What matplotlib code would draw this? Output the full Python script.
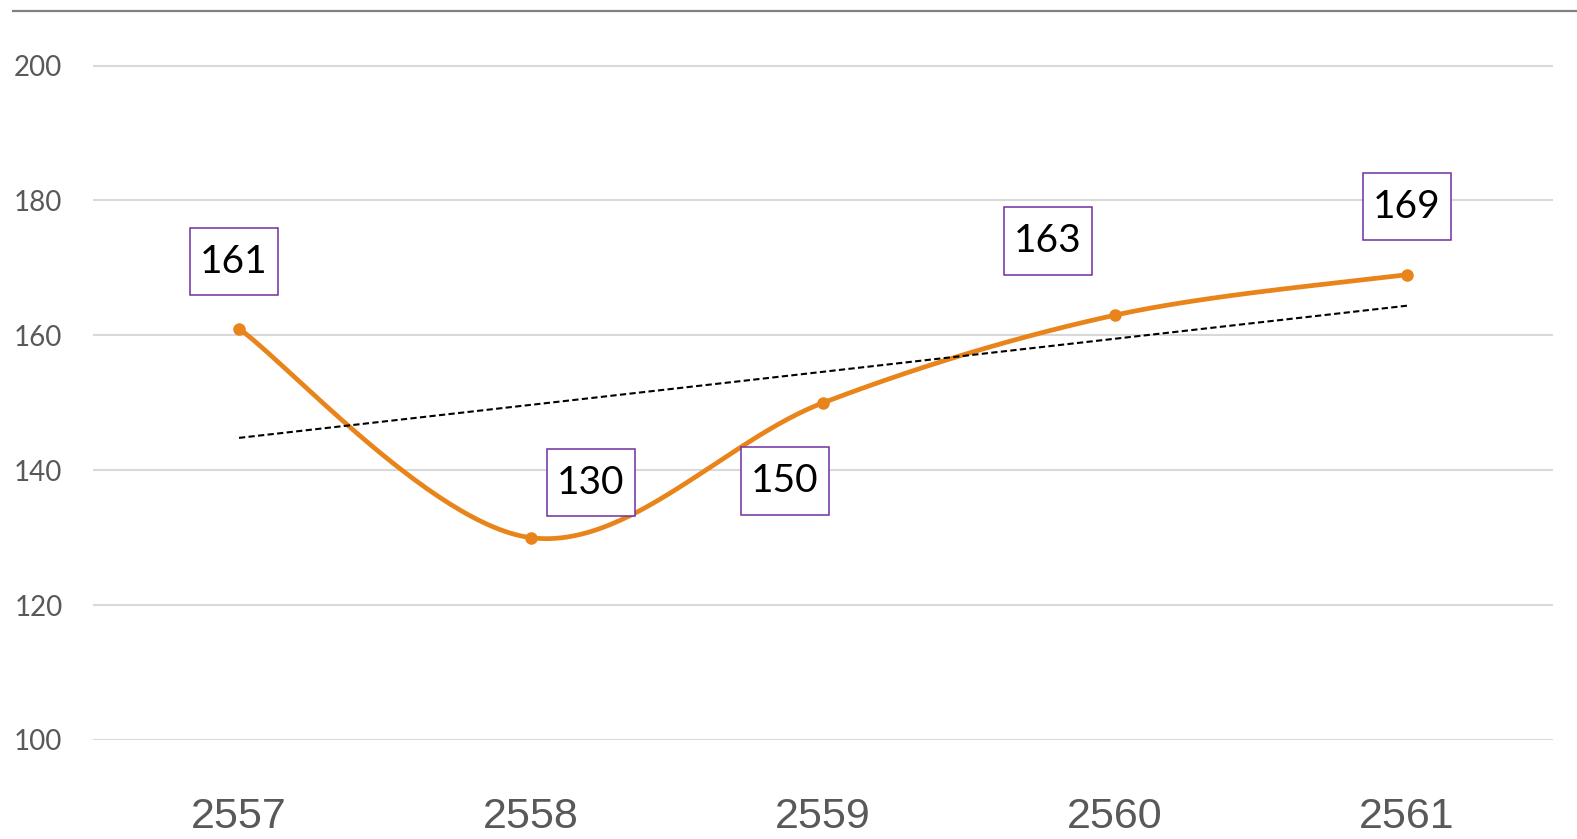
import numpy as np
import matplotlib
matplotlib.use("Agg")
import matplotlib.pyplot as plt
from matplotlib.lines import Line2D

# ---- data ----
years = ["2557", "2558", "2559", "2560", "2561"]
values = [161, 130, 150, 163, 169]
y_ticks = [100, 120, 140, 160, 180, 200]

# label offsets in pixels (style, not data)
label_offsets = [(-5, 67), (60, 55), (-38, -78), (-67, 74), (0, 68)]

W, H = 1577, 839
fig = plt.figure(figsize=(W / 100, H / 100), dpi=100)
ax = fig.add_axes([93 / W, (H - 740) / H, 1460 / W, (740 - 11) / H])

x = np.arange(len(years))
y = np.array(values, dtype=float)

# smooth curve (Excel-like cubic Bezier through points)
def smooth(xp, yp, n=60):
    P = np.column_stack([xp, yp])
    ext = np.vstack([P[0], P, P[-1]])
    out = []
    for i in range(len(P) - 1):
        p0, p1, p2, p3 = ext[i], ext[i + 1], ext[i + 2], ext[i + 3]
        c1 = p1 + (p2 - p0) / 6.0
        c2 = p2 - (p3 - p1) / 6.0
        t = np.linspace(0, 1, n)[:, None]
        seg = (1 - t) ** 3 * p1 + 3 * (1 - t) ** 2 * t * c1 + 3 * (1 - t) * t ** 2 * c2 + t ** 3 * p2
        out.append(seg if i == 0 else seg[1:])
    s = np.vstack(out)
    return s[:, 0], s[:, 1]

sx, sy = smooth(x, y)
orange = "#E8841A"
ax.plot(sx, sy, color=orange, lw=3.4, solid_capstyle="round", zorder=3)
ax.plot(x, y, "o", color=orange, ms=8, zorder=4)

# linear trendline
k, b = np.polyfit(x, y, 1)
ax.plot(x, k * x + b, color="black", lw=1.5, ls=(0, (3, 1.6)), zorder=5)

# data labels
for xi, yi, (dx, dy) in zip(x, y, label_offsets):
    ax.annotate(f"{int(yi)}", (xi, yi), xytext=(dx, dy), textcoords="offset pixels",
                ha="center", va="center", fontsize=28, family="Lato", color="black",
                bbox=dict(boxstyle="square,pad=0.27", fc="white", ec="#7030A0", lw=1.1,
                          mutation_aspect=1.5),
                zorder=6, annotation_clip=False)

ax.set_xlim(-0.5, len(years) - 0.5)
ax.set_ylim(100, 208.1)
ax.set_yticks(y_ticks)
ax.set_yticklabels([str(v) for v in y_ticks], family="Lato", fontsize=20, color="#595959")
ax.set_xticks(x)
ax.set_xticklabels(years, family="Liberation Sans", fontsize=31, color="#595959")
ax.tick_params(axis="y", length=0, pad=22)
ax.tick_params(axis="x", length=0, pad=41)
ax.grid(axis="y", color="#D9D9D9", lw=1.5)
ax.set_axisbelow(True)
for s in ax.spines.values():
    s.set_visible(False)

fig.add_artist(Line2D([13 / W, 1.0], [(H - 11) / H, (H - 11) / H], color="#808080", lw=1.6,
                      transform=fig.transFigure))

fig.savefig("out.png", dpi=100, facecolor="white")
